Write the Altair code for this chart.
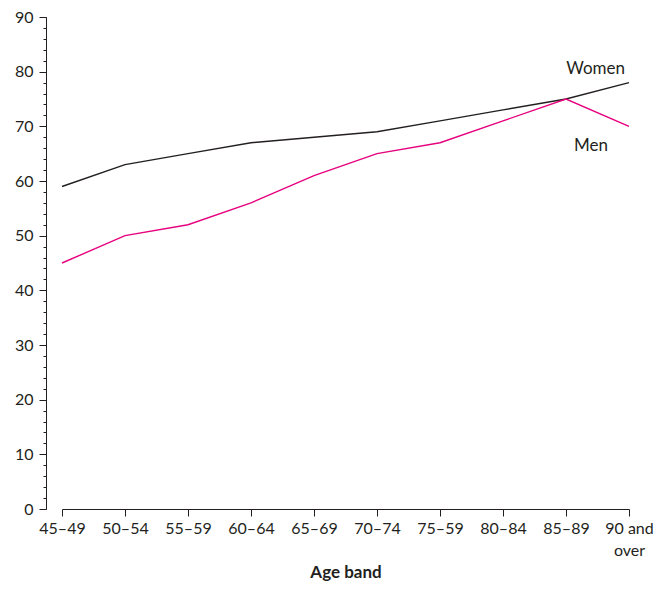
import altair as alt
import pandas as pd

ages = ["45–49", "50–54", "55–59", "60–64", "65–69", "70–74", "75–59", "80–84", "85–89", "90 and over"]
women = [59, 63, 65, 67, 68, 69, 71, 73, 75, 78]
men = [45, 50, 52, 56, 61, 65, 67, 71, 75, 70]
series_names = ["Women", "Men"]
series_colors = ["#231f20", "#e6007e"]
major_ticks = list(range(0, 91, 10))
minor_ticks = list(range(0, 91, 2))

rows = []
for a, w, m in zip(ages, women, men):
    rows.append({"age": a, "value": w, "sex": "Women"})
    rows.append({"age": a, "value": m, "sex": "Men"})
df = pd.DataFrame(rows)

label_age = ["90 and over", "90 and over"]
label_value = [80.4, 66.4]
labels = pd.DataFrame({"age": label_age, "value": label_value, "sex": series_names})

FONT = "Lato"
INK = "#231f20"
yscale = alt.Scale(domain=[0, 90], nice=False, zero=True)

x = alt.X("age:N", sort=ages, scale=alt.Scale(type="point", padding=0),
          axis=alt.Axis(title="Age band", labelAngle=0, tickSize=7, labelPadding=4,
                        labelFontSize=16, titleFontSize=17, titleFontWeight="bold",
                        titlePadding=6, labelColor=INK, titleColor=INK,
                        domainColor=INK, tickColor=INK, labelOverlap=False,
                        labelExpr="datum.value == '90 and over' ? ['90 and', 'over'] : datum.label",
                        labelLineHeight=22))
y_major = alt.Y("value:Q", scale=yscale,
                axis=alt.Axis(title=None, values=major_ticks, offset=16, orient="left",
                              tickSize=7, labelOverlap=False, labelBound=False,
                              labelFontSize=16, labelPadding=6, labelColor=INK,
                              domainColor=INK, tickColor=INK, grid=False))
y_minor = alt.Y("value:Q", scale=yscale,
                axis=alt.Axis(title=None, values=minor_ticks, offset=16, orient="left",
                              tickSize=3, labels=False, domain=False,
                              tickColor=INK, grid=False))

color = alt.Color("sex:N", scale=alt.Scale(domain=series_names, range=series_colors), legend=None)

lines = alt.Chart(df).mark_line(strokeWidth=1.4).encode(x=x, y=y_major, color=color)

text_w = alt.Chart(labels).transform_filter("datum.sex == 'Women'").mark_text(
    font=FONT, fontSize=17, align="right", dx=-4, color=INK).encode(
    x=alt.X("age:N", sort=ages), y=y_minor, text="sex:N")
text_m = alt.Chart(labels).transform_filter("datum.sex == 'Men'").mark_text(
    font=FONT, fontSize=17, align="right", dx=-21, color=INK).encode(
    x=alt.X("age:N", sort=ages), y=alt.Y("value:Q", scale=yscale, axis=None), text="sex:N")

chart = alt.layer(lines, text_w, text_m).resolve_axis(y="independent").properties(
    width=567, height=492,
    autosize=alt.AutoSizeParams(type="none"),
    padding={"left": 54, "top": 9, "right": 31, "bottom": 80},
).configure_view(stroke=None).configure_axis(labelFont=FONT, titleFont=FONT)

chart.save("out.html", embed_options={"renderer": "svg", "actions": False})
